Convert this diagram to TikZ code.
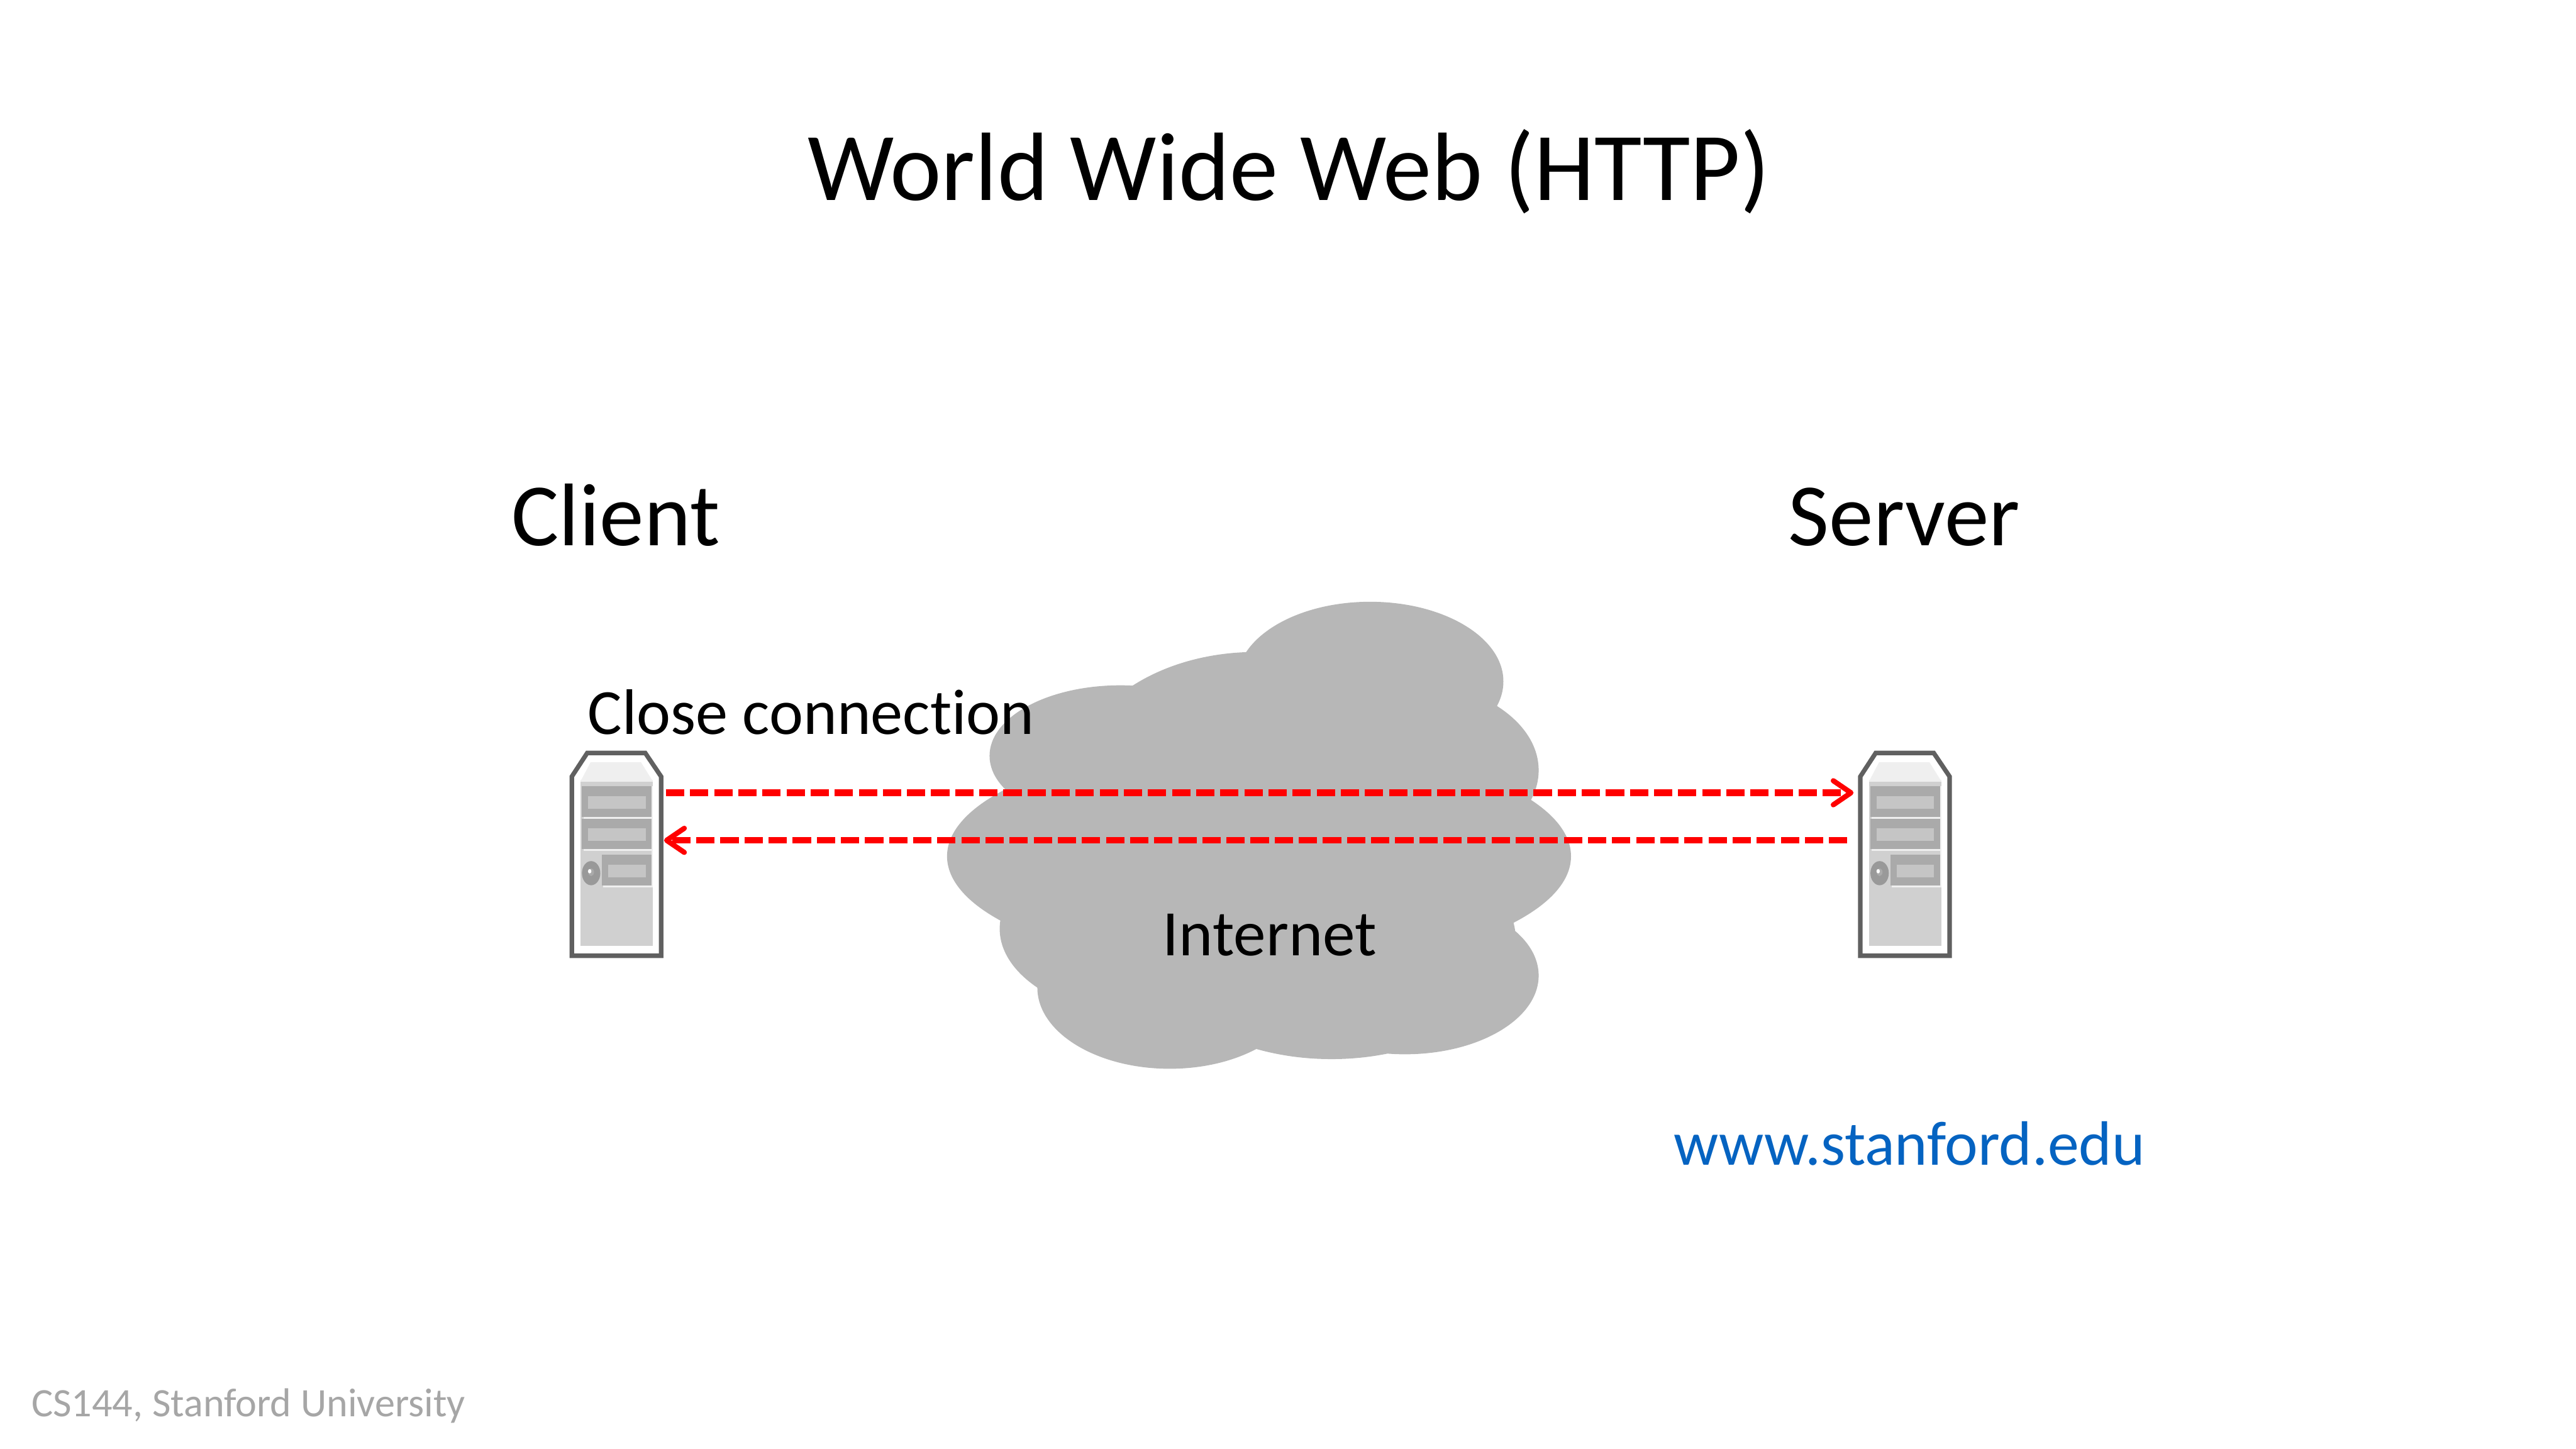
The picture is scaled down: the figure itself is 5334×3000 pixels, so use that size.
\documentclass[tikz,border=0pt]{standalone}
\usepackage{fontspec}
\setmainfont{Carlito}[Ligatures=NoCommon]
\usetikzlibrary{arrows.meta}

\definecolor{cloudgray}{HTML}{B7B7B7}
\definecolor{linkblue}{HTML}{0563C1}
\definecolor{footgray}{HTML}{A6A6A6}
\definecolor{caseedge}{HTML}{606060}
\definecolor{casebody}{HTML}{D0D0D0}
\definecolor{casetop}{HTML}{EFEFEF}
\definecolor{baydark}{HTML}{AAAAAA}
\definecolor{baylight}{HTML}{C5C5C5}

\tikzset{
  msgarrow/.style={red, line width=0.04cm, dash pattern=on 0.114cm off 0.036cm,
    -{Straight Barb[length=0.11cm, width=0.15cm, round, line width=0.032cm]}},
  servericon/.pic={
    % body and bays
    \fill[casetop] (72,98) -- (93,58) -- (197,58) -- (222,98) -- cycle;
    \fill[casebody] (72,98) rectangle (222,438);
    \fill[casetop] (72,95) rectangle (222,99);
    \fill[casetop] (219,108) rectangle (222,317);
    \foreach \bayx/\baytop in {75/108, 75/175, 116/250} {
      \fill[baydark] (\bayx,\baytop) rectangle (219,\baytop+63);
      \fill[casetop] (\bayx+3,\baytop+63) rectangle (222,\baytop+67);
      \fill[baylight] (\bayx+13,\baytop+20) rectangle (207,\baytop+46);
    }
    % disc
    \fill[gray!80] (94,288) ellipse [x radius=19, y radius=25];
    \fill[baydark] (94,286) ellipse [x radius=6, y radius=8];
    \fill[white] (91,284) ellipse [x radius=3.5, y radius=4.5];
    % case
    \draw[caseedge, line width=0.028cm] (54,88) -- (86,39) -- (206,39) -- (239,88)
      -- (239,459) -- (54,459) -- cycle;
    \coordinate (-outa) at (249,121.5);
    \coordinate (-ina) at (40,121.5);
    \coordinate (-inb) at (245,220);
    \coordinate (-outb) at (27,220);
  },
}

\begin{document}
\begin{tikzpicture}[x=0.003cm, y=-0.003cm]
    \useasboundingbox (0,0) rectangle (5334,3000);

    % Cloud
    \fill[cloudgray]
        (2837,1411) ellipse [x radius=276, y radius=165]
        (2600,1620) ellipse [x radius=380, y radius=270]
        (2320,1565) ellipse [x radius=271, y radius=146]
        (2900,1595) ellipse [x radius=286, y radius=186]
        (2607,1773) ellipse [x radius=646, y radius=238]
        (2400,1923) ellipse [x radius=330, y radius=189]
        (2422,2045) ellipse [x radius=274, y radius=168]
        (2757,1950) ellipse [x radius=382, y radius=243]
        (2909,2020) ellipse [x radius=277, y radius=163];
    \node[anchor=base, font=\fontsize{11.5}{14}\selectfont] (internet) at (2629,1979) {Internet};

    % Titles
    \node[anchor=base, font=\fontsize{17.2}{20}\selectfont] (title) at (2669,415) {World Wide Web (HTTP)};
    \node[anchor=base, font=\fontsize{15.75}{18}\selectfont] (clientname) at (1275,1130) {Client};
    \node[anchor=base, font=\fontsize{15.75}{18}\selectfont] (servername) at (3943,1130) {Server};

    % Machines
    \pic (client) at (1130,1520) {servericon};
    \pic (server) at (3798,1520) {servericon};

    % Messages
    \draw[msgarrow] (client-outa) -- (server-ina);
    \draw[msgarrow] (server-outb) -- (client-inb);

    \node[anchor=base west, inner sep=0pt, font=\fontsize{11.4}{14}\selectfont] (closing) at (1215,1520) {Close connection};
    \node[anchor=base, text=linkblue, font=\fontsize{11.1}{14}\selectfont] (url) at (3954,2413) {www.stanford.edu};
    \node[anchor=base west, inner sep=0pt, text=footgray, font=\fontsize{7.15}{9}\selectfont] (footer) at (63,2933) {CS144, Stanford University};
\end{tikzpicture}
\end{document}
